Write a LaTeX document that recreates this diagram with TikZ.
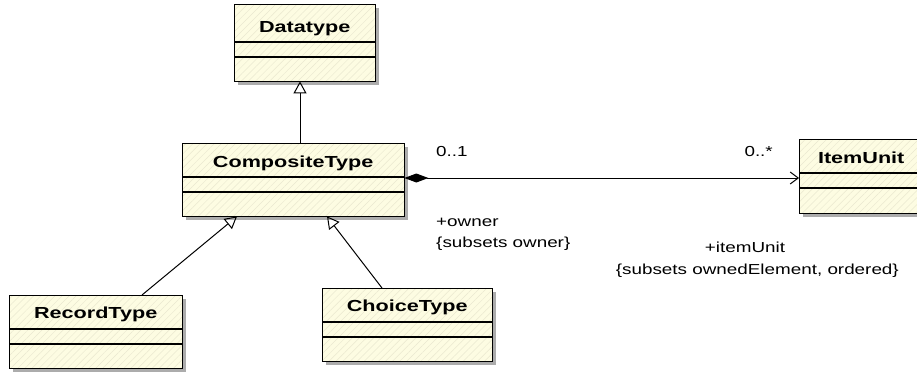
\documentclass[tikz,border=0pt]{standalone}
\usepackage{fontspec}
\setmainfont[FakeStretch=1.3,BoldFeatures={FakeStretch=1.35}]{Liberation Sans}
\usetikzlibrary{arrows.meta,shadows,patterns.meta}

\definecolor{umlfill}{RGB}{253,252,226}
\definecolor{umlhatch}{RGB}{234,232,208}
\definecolor{umlshadow}{RGB}{172,172,172}

\tikzset{
  classbox/.style={anchor=north west, inner sep=0pt, fill=umlfill,
    drop shadow={shadow xshift=4pt, shadow yshift=-4pt, fill=umlshadow, opacity=1},
    postaction={pattern={Lines[angle=45,distance=5pt,line width=0.5pt]}, pattern color=umlhatch},
    postaction={draw, line width=1.2pt}},
  classname/.style={anchor=base, inner sep=0pt, font=\fontsize{16}{19}\selectfont\bfseries},
  sep/.style={line width=1.2pt},
  role/.style={inner sep=0pt, font=\fontsize{14.5}{17}\selectfont},
  gen/.style={line width=1pt, -{Triangle[open, length=12pt, width=13pt]}},
  comp/.style={line width=1pt, {Diamond[length=24pt, width=9pt]}-{Straight Barb[length=8pt, width=12pt]}}
}

\begin{document}
\begin{tikzpicture}[x=1pt,y=-1pt]
\clip (0,0) rectangle (917,372);
% classes
\node[classbox, minimum width=141pt, minimum height=77pt] (dt) at (234,4) {};
\node[classbox, minimum width=222pt, minimum height=73pt] (ct) at (182,143) {};
\node[classbox, minimum width=173pt, minimum height=73pt] (rt) at (9,295) {};
\node[classbox, minimum width=170pt, minimum height=73pt] (ch) at (322,288) {};
\node[classbox, minimum width=124pt, minimum height=74pt] (iu) at (799,139) {};
\node[classname] (dtname) at ([yshift=-28pt]dt.north) {Datatype};
\node[classname] (ctname) at ([yshift=-24pt]ct.north) {CompositeType};
\node[classname] (rtname) at ([yshift=-23pt]rt.north) {RecordType};
\node[classname] (chname) at ([yshift=-23pt]ch.north) {ChoiceType};
\node[classname] (iuname) at ([yshift=-24pt]iu.north) {ItemUnit};
% compartments
\draw[sep] ([yshift=-38pt]dt.north west) -- ([yshift=-38pt]dt.north east);
\draw[sep] ([yshift=-53pt]dt.north west) -- ([yshift=-53pt]dt.north east);
\draw[sep] ([yshift=-34pt]ct.north west) -- ([yshift=-34pt]ct.north east);
\draw[sep] ([yshift=-49pt]ct.north west) -- ([yshift=-49pt]ct.north east);
\draw[sep] ([yshift=-34pt]rt.north west) -- ([yshift=-34pt]rt.north east);
\draw[sep] ([yshift=-49pt]rt.north west) -- ([yshift=-49pt]rt.north east);
\draw[sep] ([yshift=-34pt]ch.north west) -- ([yshift=-34pt]ch.north east);
\draw[sep] ([yshift=-49pt]ch.north west) -- ([yshift=-49pt]ch.north east);
\draw[sep] ([yshift=-34pt]iu.north west) -- ([yshift=-34pt]iu.north east);
\draw[sep] ([yshift=-49pt]iu.north west) -- ([yshift=-49pt]iu.north east);
% generalizations
\draw[gen] (ct.north -| 300,0) -- (dt.south -| 300,0);
\draw[gen] (rt.north -| 142,0) -- (ct.south -| 237,0);
\draw[gen] (ch.north -| 382,0) -- (ct.south -| 327,0);
% composition
\draw[comp] (ct.east |- 0,178) -- (iu.west |- 0,178);
\node[role, anchor=base west] (ownmult) at (436,156) {0..1};
\node[role, anchor=base east] (itemmult) at (773,156) {0..*};
\node[role, anchor=base west] (ownrole) at (436,226) {+owner};
\node[role, anchor=base west] (ownsub) at (436,247) {\{subsets owner\}};
\node[role, anchor=base] (itemrole) at (745,252) {+itemUnit};
\node[role, anchor=base east] (itemsub) at (899,274) {\{subsets ownedElement, ordered\}};
\end{tikzpicture}
\end{document}
